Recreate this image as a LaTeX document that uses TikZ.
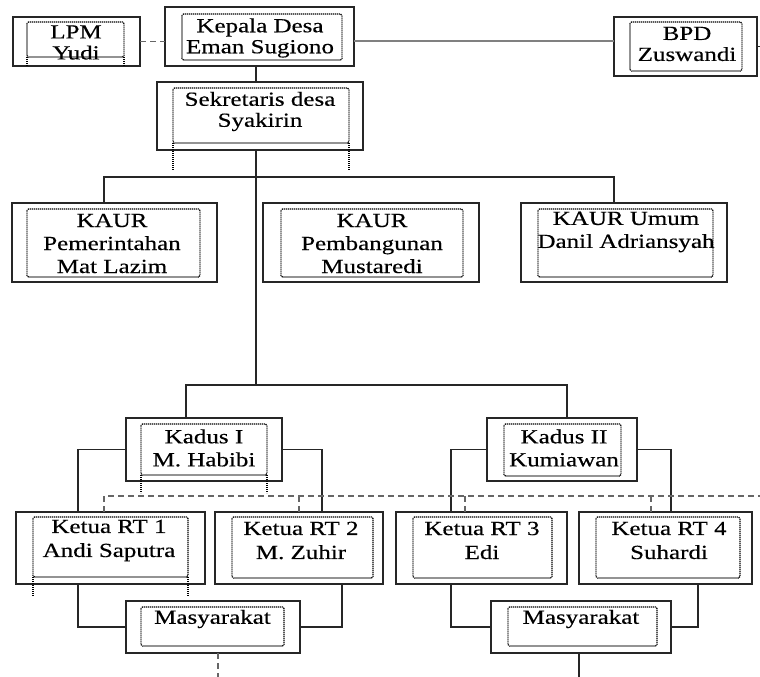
\documentclass[tikz,border=0pt]{standalone}
\usepackage{fontspec}
\setmainfont{Liberation Serif}[FakeStretch=1.25,FakeBold=0.4]
\begin{document}
\begin{tikzpicture}[x=1pt,y=-1pt,
  box/.style={draw=black!85, line width=1.5pt, fill=none, inner sep=0pt, outer sep=0pt},
  inbox/.style={draw=black, line width=1.1pt, dash pattern=on 1.2pt off 0.8pt, rounded corners=1.5pt},
  inext/.style={draw=black, line width=1.1pt, dash pattern=on 1.2pt off 0.8pt},
  txt/.style={align=center, inner sep=0pt, text=black, font=\fontsize{20}{21}\selectfont},
  txtb/.style={txt, font=\fontsize{20}{23}\selectfont},
  txtc/.style={txt, font=\fontsize{20}{24}\selectfont},
  conn/.style={draw=black!85, line width=1.4pt},
  grayconn/.style={draw=black!50, line width=1.8pt},
  dashconn/.style={draw=black!60, line width=1.4pt, dash pattern=on 6pt off 4pt}]
\useasboundingbox (0,0) rectangle (760,677);
\fill[white] (0,0) rectangle (760,677);

% helper coordinates
\coordinate (trunk) at (256,0);
\coordinate (bar1) at (0,177);
\coordinate (kbar) at (0,385);
\coordinate (dbar) at (0,496);
\coordinate (c104) at (104,0);
\coordinate (c614) at (614,0);
\coordinate (c186) at (186,0);
\coordinate (c567) at (567,0);
\coordinate (c78) at (78,0);
\coordinate (c322) at (322,0);
\coordinate (c451) at (451,0);
\coordinate (c671) at (671,0);
\coordinate (c299) at (299,0);
\coordinate (c465) at (465,0);
\coordinate (c651) at (651,0);
\coordinate (c342) at (342,0);
\coordinate (c698) at (698,0);
\coordinate (dend) at (760,496);
\coordinate (bpdend) at (760,50);
\coordinate (m1end) at (218,677);
\coordinate (m2end) at (579,677);
\coordinate (kepy) at (0,41);

% outer boxes
\node[box, minimum width=127pt, minimum height=49pt] (lpm) at (76.5,41.5) {};
\node[box, minimum width=189pt, minimum height=59pt] (kepala) at (259.5,36.5) {};
\node[box, minimum width=143pt, minimum height=59pt] (bpd) at (685.5,46.5) {};
\node[box, minimum width=206pt, minimum height=68pt] (sek) at (260,116) {};
\node[box, minimum width=205pt, minimum height=79pt] (kaur1) at (114.5,242.5) {};
\node[box, minimum width=216pt, minimum height=79pt] (kaur2) at (371,242.5) {};
\node[box, minimum width=206pt, minimum height=79pt] (kaur3) at (624,242.5) {};
\node[box, minimum width=156pt, minimum height=63pt] (kadus1) at (204,449.5) {};
\node[box, minimum width=150pt, minimum height=63pt] (kadus2) at (562,449.5) {};
\node[box, minimum width=189pt, minimum height=72pt] (rt1) at (110.5,548) {};
\node[box, minimum width=168pt, minimum height=72pt] (rt2) at (299,548) {};
\node[box, minimum width=171pt, minimum height=72pt] (rt3) at (481.5,548) {};
\node[box, minimum width=173pt, minimum height=72pt] (rt4) at (665.5,548) {};
\node[box, minimum width=174pt, minimum height=52pt] (masy1) at (213,627) {};
\node[box, minimum width=180pt, minimum height=52pt] (masy2) at (581,627) {};

% inner dotted frames
\draw[inbox] (27,22) rectangle (124,57);
\draw[inext] (27,57) -- (27,66) (124,57) -- (124,66);
\draw[inbox] (182,14) rectangle (342,60);
\draw[inbox] (630,22) rectangle (742,71);
\draw[inbox] (173,88) rectangle (349,143);
\draw[inext] (173,143) -- (173,170) (349,143) -- (349,170);
\draw[inbox] (27,209) rectangle (200,277);
\draw[inbox] (281,209) rectangle (463,277);
\draw[inbox] (538,209) rectangle (713,277);
\draw[inbox] (141,424) rectangle (267,475);
\draw[inext] (141,475) -- (141,493) (267,475) -- (267,493);
\draw[inbox] (504,424) rectangle (621,476);
\draw[inbox] (33,517) rectangle (188,577);
\draw[inext] (33,577) -- (33,596) (188,577) -- (188,596);
\draw[inbox] (232,517) rectangle (373,578);
\draw[inbox] (413,517) rectangle (552,578);
\draw[inbox] (596,517) rectangle (740,578);
\draw[inbox] (141,607) rectangle (284,646);
\draw[inbox] (508,607) rectangle (657,646);

% texts
\node[txt] (lpm-t) at (76,42.5) {LPM\\Yudi};
\node[txt] (kepala-t) at (260,38) {Kepala Desa\\Eman Sugiono};
\node[txt] (bpd-t) at (687,44) {BPD\\Zuswandi};
\node[txt] (sek-t) at (260,111.5) {Sekretaris desa\\Syakirin};
\node[txtb] (kaur1-t) at (112,243.5) {KAUR\\Pemerintahan\\Mat Lazim};
\node[txtb] (kaur2-t) at (372,243.5) {KAUR\\Pembangunan\\Mustaredi};
\node[txtb] (kaur3-t) at (626,232) {KAUR Umum\\Danil Adriansyah};
\node[txtb] (kadus1-t) at (204,448) {Kadus I\\M. Habibi};
\node[txtb] (kadus2-t) at (564,448) {Kadus II\\Kumiawan};
\node[txtc] (rt1-t) at (109,540.5) {Ketua RT 1\\Andi Saputra};
\node[txtc] (rt2-t) at (301,540.5) {Ketua RT 2\\M. Zuhir};
\node[txtc] (rt3-t) at (482,540.5) {Ketua RT 3\\Edi};
\node[txtc] (rt4-t) at (669,540.5) {Ketua RT 4\\Suhardi};
\node[txt] (masy1-t) at (212.5,619) {Masyarakat};
\node[txt] (masy2-t) at (581,619) {Masyarakat};

% connectors
\draw[dashconn] (lpm.east) -- (lpm.east -| kepala.west);
\draw[grayconn] (kepala.east |- kepy) -- (bpd.west |- kepy);
\draw[conn] (bpd.east) -- (bpd.east -| bpdend);
\draw[conn] (kepala.south -| trunk) -- (sek.north -| trunk);
\draw[conn] (sek.south -| trunk) -- (trunk |- kbar);
\draw[conn] (kaur1.north -| c104) -- (c104 |- bar1) -- (c614 |- bar1) -- (kaur3.north -| c614);
\draw[conn] (kadus1.north -| c186) -- (c186 |- kbar) -- (c567 |- kbar) -- (kadus2.north -| c567);
\draw[conn] (kadus1.west) -| (rt1.north -| c78);
\draw[conn] (kadus1.east) -| (rt2.north -| c322);
\draw[conn] (kadus2.west) -| (rt3.north -| c451);
\draw[conn] (kadus2.east) -| (rt4.north -| c671);
\draw[dashconn] (rt1.north -| c104) -- (c104 |- dbar) -- (dend);
\draw[dashconn] (c299 |- dbar) -- (rt2.north -| c299);
\draw[dashconn] (c465 |- dbar) -- (rt3.north -| c465);
\draw[dashconn] (c651 |- dbar) -- (rt4.north -| c651);
\draw[conn] (rt1.south -| c78) |- (masy1.west);
\draw[conn] (rt2.south -| c342) |- (masy1.east);
\draw[conn] (rt3.south -| c451) |- (masy2.west);
\draw[conn] (rt4.south -| c698) |- (masy2.east);
\draw[dashconn] (masy1.south -| m1end) -- (m1end);
\draw[conn] (masy2.south -| m2end) -- (m2end);
\end{tikzpicture}
\end{document}
